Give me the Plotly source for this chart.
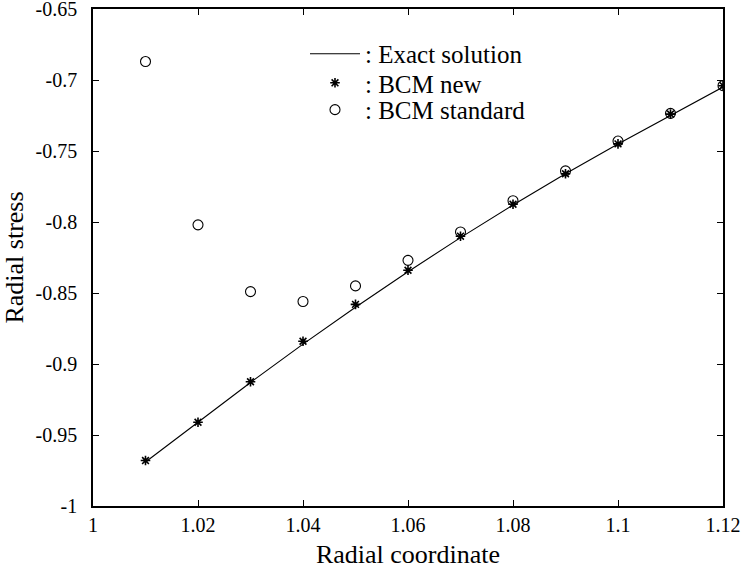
import plotly.graph_objects as go

x_pts = [1.01, 1.02, 1.03, 1.04, 1.05, 1.06, 1.07, 1.08, 1.09, 1.10, 1.11, 1.12]
exact = [-0.969, -0.941, -0.913, -0.886, -0.860, -0.835, -0.811, -0.788, -0.766, -0.745, -0.725, -0.705]
bcm_new = [-0.968, -0.941, -0.9125, -0.884, -0.858, -0.834, -0.810, -0.7875, -0.766, -0.745, -0.724, -0.704]
bcm_std = [-0.687, -0.802, -0.849, -0.856, -0.845, -0.827, -0.807, -0.785, -0.764, -0.743, -0.7235, -0.704]

x_ticks = [1, 1.02, 1.04, 1.06, 1.08, 1.1, 1.12]
x_ticktext = ["1", "1.02", "1.04", "1.06", "1.08", "1.1", "1.12"]
y_ticks = [-1, -0.95, -0.9, -0.85, -0.8, -0.75, -0.7, -0.65]
y_ticktext = ["-1", "-0.95", "-0.9", "-0.85", "-0.8", "-0.75", "-0.7", "-0.65"]

FONT = "Liberation Serif"

fig = go.Figure()
fig.add_trace(go.Scatter(x=x_pts, y=exact, mode="lines", name=": Exact solution",
                         line=dict(color="black", width=1.1), legend="legend"))
fig.add_trace(go.Scatter(x=x_pts, y=bcm_new, mode="markers", name=": BCM new",
                         marker=dict(symbol="asterisk-open", size=8, color="black",
                                     line=dict(color="black", width=1.6)), legend="legend2"))
fig.add_trace(go.Scatter(x=x_pts, y=bcm_std, mode="markers", name=": BCM standard",
                         marker=dict(symbol="circle-open", size=10, color="black",
                                     line=dict(color="black", width=1.1)), legend="legend3"))

axis_common = dict(showline=True, linecolor="black", linewidth=1.5, mirror="ticks",
                   ticks="inside", ticklen=6, tickcolor="black", tickwidth=1,
                   showgrid=False, zeroline=False, automargin=False,
                   ticklabeloverflow="allow",
                   tickfont=dict(family=FONT, size=20, color="black"))

fig.update_xaxes(range=[1, 1.12], tickvals=x_ticks, ticktext=x_ticktext,
                 title=dict(text="Radial coordinate", font=dict(family=FONT, size=26, color="black"),
                            standoff=10),
                 ticklabelstandoff=0, **axis_common)
fig.update_yaxes(range=[-1, -0.65], tickvals=y_ticks, ticktext=y_ticktext,
                 title=dict(text="Radial stress", font=dict(family=FONT, size=26, color="black"),
                            standoff=12),
                 ticklabelstandoff=10, **axis_common)

leg_common = dict(xanchor="left", yanchor="middle", bgcolor="rgba(0,0,0,0)", borderwidth=0,
                  font=dict(family=FONT, size=25, color="black"), itemwidth=50)

fig.update_layout(
    width=744, height=576,
    margin=dict(l=93, r=21, t=9, b=70),
    paper_bgcolor="white", plot_bgcolor="white",
    font=dict(family=FONT, size=20, color="black"),
    legend=dict(x=0.3365, y=0.9095, **leg_common),
    legend2=dict(x=0.3365, y=0.851, **leg_common),
    legend3=dict(x=0.3365, y=0.797, **leg_common),
    showlegend=True,
)

fig.write_html("out.html")
